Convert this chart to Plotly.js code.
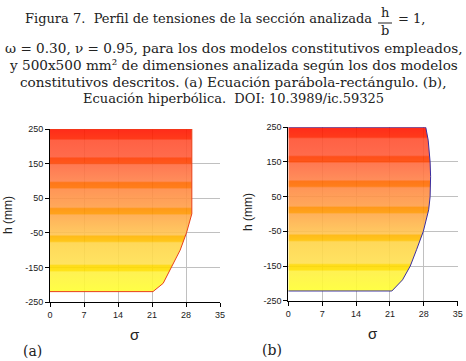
<!DOCTYPE html>
<html>
<head>
<meta charset="utf-8">
<script src="https://cdn.plot.ly/plotly-3.0.1.min.js"></script>
<style>
html,body{margin:0;padding:0;background:#fff;}
#chart{width:466px;height:361px;}
</style>
</head>
<body>
<div id="chart"></div>
<script>
// ---- data ----
// (a) parabola-rectangle stress block
const sigmaA = [0, 29.2, 29.2, 28.8, 28.1, 26.8, 25.0, 23.3, 21.2, 0];
const hA     = [250, 250, 5, -13, -50, -100, -150, -196, -220, -220];
// (b) hyperbolic stress block
const sigmaB = [0, 28.4, 28.9, 29.2, 29.3, 29.4, 29.3, 29.0, 28.2, 27.9, 26.5, 25.2, 23.6, 21.4, 0];
const hB     = [250, 250, 213, 175, 150, 108, 50, 12, -37, -50, -103, -150, -190, -222, -222];

const xTicks = [0, 7, 14, 21, 28, 35];
const yTicks = [-250, -150, -50, 50, 150, 250];

const captionLines = [
  "ω = 0.30, ν = 0.95, para los dos modelos constitutivos empleados,",
  "y 500x500 mm² de dimensiones analizada según los dos modelos",
  "constitutivos descritos. (a) Ecuación parábola-rectángulo. (b),",
  "Ecuación hiperbólica.  DOI: 10.3989/ic.59325"
];
const captionFirst = "Figura 7.  Perfil de tensiones de la sección analizada";

// ---- helpers ----
const W = 466, H = 361;
const px = x => x / W;
const py = y => 1 - y / H;

const A = 0.9;
function rgba(hex){
  const r = parseInt(hex.slice(1,3),16), g = parseInt(hex.slice(3,5),16), b = parseInt(hex.slice(5,7),16);
  return `rgba(${r},${g},${b},${A})`;
}
const bandStops = [
  [0.00, "#ffff30"], [0.12, "#fff040"], [0.13, "#ffe000"], [0.16, "#ffd800"],
  [0.17, "#ffe050"], [0.30, "#ffd448"], [0.31, "#ffc000"], [0.34, "#ffb400"],
  [0.35, "#ffc450"], [0.47, "#ffa848"], [0.48, "#ff9800"], [0.51, "#ff8e00"],
  [0.52, "#ff9e48"], [0.63, "#ff8a45"], [0.64, "#ff7000"], [0.67, "#ff6800"],
  [0.68, "#ff8048"], [0.78, "#ff6a40"], [0.79, "#ff4400"], [0.82, "#ff3c00"],
  [0.83, "#ff5a38"], [0.93, "#ff5030"], [0.94, "#ff2400"], [1.00, "#ff1400"]
];
const cs = bandStops.map(s => [s[0], rgba(s[1])]);

function block(xs, ys, lineColor, xa, ya){
  return {
    type: 'scatter', mode: 'lines', x: xs, y: ys,
    xaxis: xa, yaxis: ya,
    fill: 'toself',
    fillgradient: {type: 'vertical', colorscale: cs, start: Math.min(...ys), stop: Math.max(...ys)},
    line: {color: lineColor, width: 1},
    hoverinfo: 'skip', showlegend: false
  };
}

const traces = [
  block(sigmaA, hA, '#e84018', 'x', 'y'),
  block(sigmaB, hB, '#3a2ea0', 'x2', 'y2')
];

const tickFont = {family: 'Liberation Sans, Arial, sans-serif', size: 9, color: '#1a1a1a'};
function xAxis(domain, anchor){
  return {
    domain: domain, anchor: anchor, range: [0, 35],
    tickvals: xTicks, ticktext: xTicks.map(String),
    showline: true, linecolor: '#000', linewidth: 1,
    ticks: 'outside', ticklen: 4, tickcolor: '#000',
    showgrid: true, gridcolor: '#c0c0c0', gridwidth: 1,
    zeroline: false, fixedrange: true, tickfont: tickFont
  };
}
function yAxis(domain, anchor){
  return {
    domain: domain, anchor: anchor, range: [-250, 250],
    tickvals: yTicks, ticktext: yTicks.map(String),
    showline: true, linecolor: '#000', linewidth: 1,
    ticks: 'outside', ticklen: 4, tickcolor: '#000',
    showgrid: true, gridcolor: '#c0c0c0', gridwidth: 1,
    zeroline: false, fixedrange: true, tickfont: tickFont
  };
}

const serifFam = 'DejaVu Serif, Liberation Serif, serif';
const serif = {family: serifFam, size: 13, color: '#222'};
const annotations = [];
function ann(text, x, y, opts){
  annotations.push(Object.assign({
    text: text, xref: 'paper', yref: 'paper', x: px(x), y: py(y),
    xanchor: 'center', yanchor: 'middle', showarrow: false, font: serif
  }, opts || {}));
}
// caption
ann(captionFirst, 374, 19, {xanchor: 'right'});
ann("h", 385, 13);
ann("b", 385, 31);
ann("= 1,", 396, 19, {xanchor: 'left'});
const lineY = [48, 65, 82, 98];
const lineSize = [13.6, 13.6, 13.6, 13];
captionLines.forEach((t, i) => ann(t, 233, lineY[i], {font: {family: serifFam, size: lineSize[i], color: '#222'}}));
// axis titles and panel labels
const sans = {family: 'Liberation Sans, Arial, sans-serif', size: 12, color: '#222'};
ann("h (mm)", 8, 215, {textangle: -90, font: sans});
ann("h (mm)", 248, 212, {textangle: -90, font: sans});
ann("σ", 135, 334, {font: {family: 'Liberation Sans, Arial, sans-serif', size: 15, color: '#222'}});
ann("σ", 373, 333, {font: {family: 'Liberation Sans, Arial, sans-serif', size: 15, color: '#222'}});
ann("(a)", 32, 351, {font: {family: serifFam, size: 14, color: '#222'}});
ann("(b)", 272, 350, {font: {family: serifFam, size: 14, color: '#222'}});

const layout = {
  width: W, height: H,
  margin: {l: 0, r: 0, t: 0, b: 0},
  paper_bgcolor: '#fff', plot_bgcolor: '#fff',
  showlegend: false,
  xaxis: xAxis([px(50), px(220)], 'y'),
  yaxis: yAxis([py(302), py(129)], 'x'),
  xaxis2: xAxis([px(288.3), px(457.7)], 'y2'),
  yaxis2: yAxis([py(300.7), py(127.3)], 'x2'),
  annotations: annotations,
  shapes: [{type: 'line', xref: 'paper', yref: 'paper', x0: px(378), x1: px(392), y0: py(23), y1: py(23), line: {color: '#222', width: 1}}]
};

Plotly.newPlot('chart', traces, layout, {displayModeBar: false, staticPlot: true});
</script>
</body>
</html>
